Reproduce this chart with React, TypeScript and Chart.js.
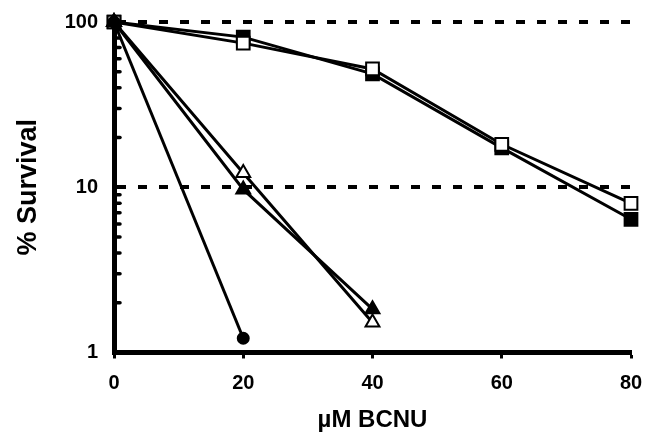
import React, { useEffect, useRef } from "react";
import { Chart, registerables } from "chart.js";

Chart.register(...registerables);

const doses = [0, 20, 40, 60, 80];
const filledSquare = [100, 81, 48.5, 17.3, 6.4];
const openSquare = [100, 74.5, 52, 18.2, 8.0];
const filledTriangle = [100, 9.7, 1.83];
const openTriangle = [100, 12.2, 1.52];
const filledCircle = [100, 1.22];
const yMajorTicks = [1, 10, 100];
const yMinorTicks = [2, 3, 4, 5, 6, 7, 8, 9, 20, 30, 40, 50, 60, 70, 80, 90];
const xTicks = [0, 20, 40, 60, 80];

const FONT = "'Liberation Sans', Arial, Helvetica, sans-serif";

function pts(vals: number[]) {
  return vals.map((v, i) => ({ x: doses[i], y: v }));
}

const minorTickPlugin = {
  id: "minorTicks",
  beforeDatasetsDraw(chart: any) {
    const y = chart.scales.y;
    const ctx = chart.ctx;
    const left = chart.chartArea.left;
    ctx.save();
    ctx.strokeStyle = "#000";
    ctx.lineWidth = 3.5;
    ctx.lineCap = "round";
    for (const v of yMinorTicks) {
      const py = y.getPixelForValue(v);
      ctx.beginPath();
      ctx.moveTo(left, py);
      ctx.lineTo(left + 6, py);
      ctx.stroke();
    }
    ctx.restore();
  },
};

export default function App() {
  const ref = useRef<HTMLCanvasElement>(null);
  useEffect(() => {
    document.body.style.margin = "0";
    const common = {
      borderColor: "#000",
      borderWidth: 3,
      pointBorderColor: "#000",
      pointBorderWidth: 2,
      showLine: true,
      clip: false as any,
    };
    const chart = new Chart(ref.current!, {
      type: "scatter",
      data: {
        datasets: [
          { ...common, label: "circle", data: pts(filledCircle), pointStyle: "circle", pointRadius: 5.5, pointBackgroundColor: "#000" },
          { ...common, label: "open triangle", data: pts(openTriangle), pointStyle: "triangle", pointRadius: 8, pointBackgroundColor: "#fff" },
          { ...common, label: "filled triangle", data: pts(filledTriangle), pointStyle: "triangle", pointRadius: 8, pointBackgroundColor: "#000" },
          { ...common, label: "open square", data: pts(openSquare), pointStyle: "rect", pointRadius: 9, pointBackgroundColor: "#fff" },
          { ...common, label: "filled square", data: pts(filledSquare), pointStyle: "rect", pointRadius: 9, pointBackgroundColor: "#000" },
        ],
      },
      options: {
        responsive: false,
        animation: false,
        layout: { padding: { left: 0, right: 27, top: 22, bottom: 0 } },
        plugins: { legend: { display: false }, tooltip: { enabled: false } },
        scales: {
          x: {
            type: "linear",
            min: 0,
            max: 80,
            afterBuildTicks: (s: any) => {
              s.ticks = xTicks.map((v) => ({ value: v }));
            },
            afterFit: (s: any) => {
              s.height = 85.5;
              s.paddingLeft = 0;
              s.paddingRight = 0;
            },
            grid: {
              drawOnChartArea: false,
              drawTicks: true,
              tickLength: 6,
              tickWidth: 3,
              tickColor: "#000",
            },
            border: { display: true, color: "#000", width: 5 },
            ticks: {
              color: "#000",
              padding: 13,
              font: { family: FONT, size: 20, weight: "bold" },
              maxRotation: 0,
            },
            title: {
              display: true,
              text: "µM BCNU",
              color: "#000",
              padding: { top: 0, bottom: 3 },
              font: { family: FONT, size: 24, weight: "bold" },
            },
          },
          y: {
            type: "logarithmic",
            min: 1,
            max: 100,
            afterBuildTicks: (s: any) => {
              s.ticks = yMajorTicks.map((v) => ({ value: v }));
            },
            afterFit: (s: any) => {
              s.width = 114;
              s.paddingTop = 0;
              s.paddingBottom = 0;
            },
            grid: {
              drawTicks: false,
              color: "#000",
              lineWidth: (c: any) => (c.tick && (c.tick.value === 10 || c.tick.value === 100) ? 4 : 0),
            },
            border: { display: true, color: "#000", width: 5, dash: [9, 12] },
            ticks: {
              color: "#000",
              padding: 16,
              font: { family: FONT, size: 20, weight: "bold" },
              callback: (v: any) => String(v),
            },
            title: {
              display: true,
              text: "% Survival",
              color: "#000",
              padding: { top: 12, bottom: 0 },
              font: { family: FONT, size: 27, weight: "bold" },
            },
          },
        },
      },
      plugins: [minorTickPlugin],
    });
    return () => chart.destroy();
  }, []);
  return <canvas ref={ref} width={658} height={438} style={{ display: "block" }} />;
}
